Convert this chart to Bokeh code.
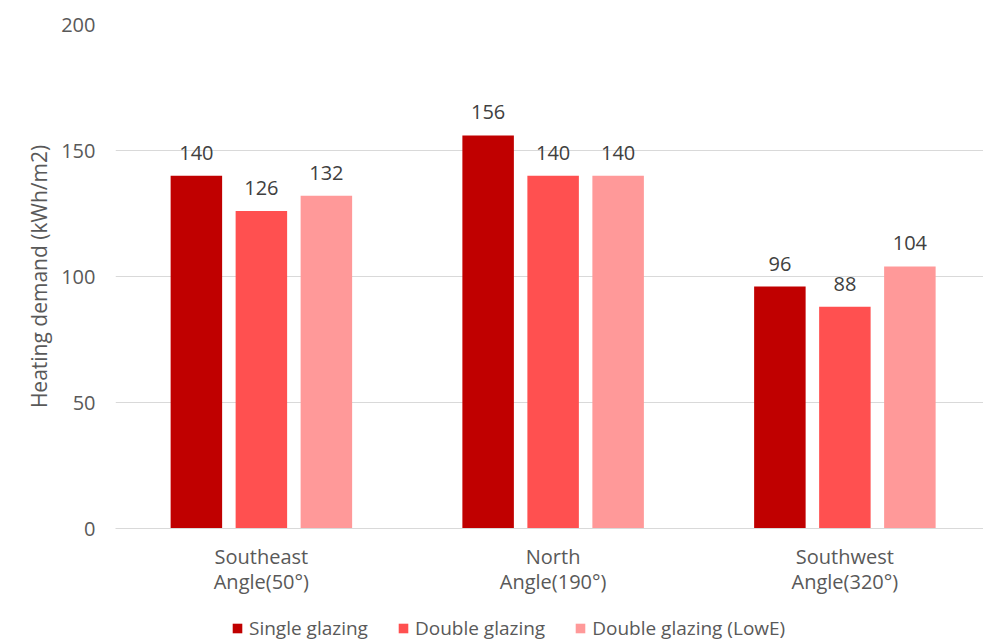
from bokeh.plotting import figure
from bokeh.layouts import column
from bokeh.models import (ColumnDataSource, Range1d, FixedTicker, Legend, LegendItem)
from bokeh.transform import dodge
from bokeh.core.properties import value
from bokeh.embed import file_html
from bokeh.resources import INLINE

# Heating demand per building orientation and glazing type
orientations = ["Southeast\nAngle(50°)", "North\nAngle(190°)", "Southwest\nAngle(320°)"]
single_glazing = [140, 156, 96]
double_glazing = [126, 140, 88]
double_glazing_lowe = [132, 140, 104]
series_names = ["Single glazing", "Double glazing", "Double glazing (LowE)"]
series_colors = ["#C00000", "#FF5050", "#FF9999"]
y_ticks = [0, 50, 100, 150, 200]

FONT = "Open Sans"
GREY = "#595959"
FS = "20px"

x_pos = list(range(len(orientations)))
source = ColumnDataSource(dict(
    x=x_pos,
    single=single_glazing,
    double=double_glazing,
    lowe=double_glazing_lowe,
    single_lbl=[str(v) for v in single_glazing],
    double_lbl=[str(v) for v in double_glazing],
    lowe_lbl=[str(v) for v in double_glazing_lowe],
))

group_px = 291.75
frame_w = 983 - 115
p = figure(width=983, height=600, output_backend="svg", toolbar_location=None,
           x_range=Range1d(-0.5, -0.5 + frame_w / group_px),
           y_range=Range1d(0, 200),
           min_border_left=115, min_border_right=0,
           min_border_top=24, min_border_bottom=72)
p.outline_line_color = None
p.background_fill_color = "white"
p.border_fill_color = "white"

step = 65 / group_px
bar_w = 51.5 / group_px
cols = ["single", "double", "lowe"]
for i, (col, color) in enumerate(zip(cols, series_colors)):
    off = (i - 1) * step
    p.vbar(x=dodge("x", off, range=p.x_range), top=col, width=bar_w, bottom=0,
           source=source, fill_color=color, line_color=None)
    p.text(x=dodge("x", off, range=p.x_range), y=col, text=col + "_lbl", source=source,
           text_align="center", text_baseline="middle", y_offset=-23,
           text_font=value(FONT), text_font_size=FS, text_color="#404040")

# axes
p.xaxis.ticker = FixedTicker(ticks=x_pos)
p.xaxis.major_label_overrides = {i: lab for i, lab in enumerate(orientations)}
p.xaxis.major_tick_line_color = None
p.xaxis.minor_tick_line_color = None
p.xaxis.axis_line_color = "#d9d9d9"
p.xaxis.major_label_standoff = 8
p.xaxis.major_label_text_font = FONT
p.xaxis.major_label_text_font_size = FS
p.xaxis.major_label_text_color = GREY
p.xaxis.major_label_text_line_height = 0.95

p.yaxis.ticker = FixedTicker(ticks=y_ticks)
p.yaxis.major_tick_line_color = None
p.yaxis.minor_tick_line_color = None
p.yaxis.axis_line_color = None
p.yaxis.major_label_standoff = 14
p.yaxis.major_label_text_font = FONT
p.yaxis.major_label_text_font_size = FS
p.yaxis.major_label_text_color = GREY
p.yaxis.axis_label = "Heating demand (kWh/m2)"
p.yaxis.axis_label_standoff = 5
p.yaxis.axis_label_text_font = FONT
p.yaxis.axis_label_text_font_size = "21px"
p.yaxis.axis_label_text_font_style = "normal"
p.yaxis.axis_label_text_color = GREY

p.xgrid.grid_line_color = None
p.ygrid.grid_line_color = "#d9d9d9"
p.ygrid.grid_line_width = 1

# legend strip under the chart; its renderers only supply the swatch styles
leg = figure(width=983, height=42, output_backend="svg", toolbar_location=None,
             x_range=Range1d(0, 983), y_range=Range1d(0, 42),
             min_border=0, outline_line_color=None)
leg.axis.visible = False
leg.grid.visible = False
swatches = []
for col, c in zip(cols, series_colors):
    r = leg.vbar(x="x", top=col, width=0.1, source=source, fill_color=c, line_color=None)
    r.visible = False
    swatches.append(r)
legend = Legend(items=[LegendItem(label=n, renderers=[r]) for n, r in zip(series_names, swatches)],
                orientation="horizontal", location=(116, 1),
                glyph_width=12, glyph_height=12, label_standoff=6, spacing=29,
                padding=0, margin=0, border_line_color=None, background_fill_alpha=0,
                label_text_font=FONT, label_text_font_size="19px", label_text_color=GREY,
                label_height=20)
leg.add_layout(legend, "center")

open("out.html", "w").write(file_html(column(p, leg), INLINE))
